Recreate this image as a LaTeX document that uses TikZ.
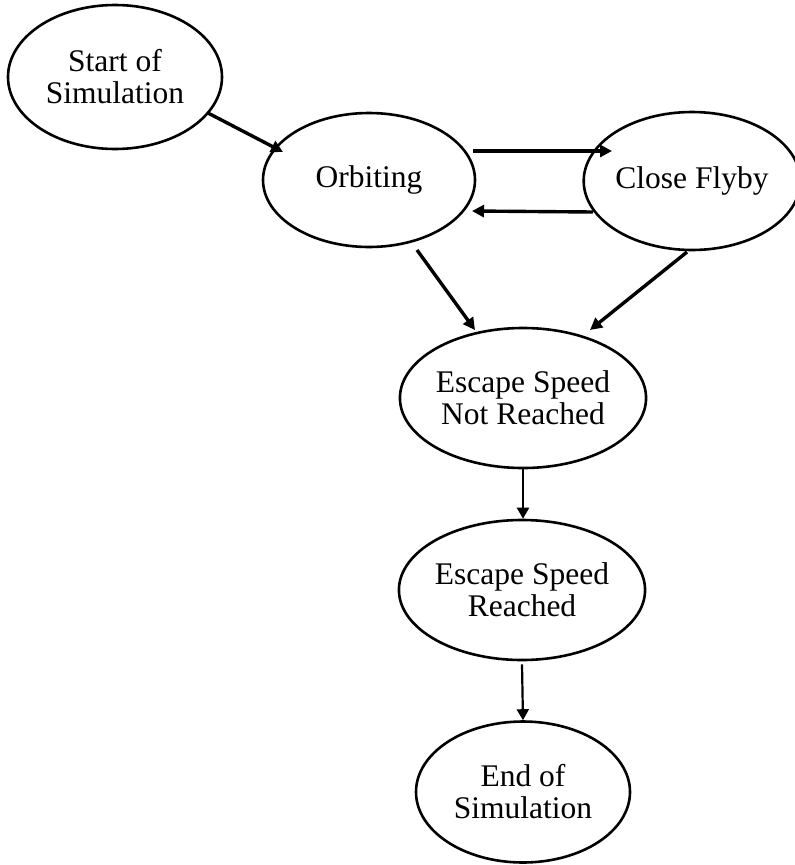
\documentclass[tikz,border=0pt]{standalone}
\usepackage{fontspec}
\setmainfont{Liberation Serif}
\usetikzlibrary{shapes.geometric,arrows.meta,calc}
\begin{document}
\begin{tikzpicture}[x=1pt,y=-1pt,
  state/.style={ellipse,draw,line width=2.6pt,inner sep=0pt,
    minimum width=214pt,minimum height=140pt,align=center,
    font=\fontsize{31.5}{32}\selectfont},
  arr/.style={line width=3.4pt,-{Triangle[length=12pt,width=12pt]}},
  varr/.style={line width=2.2pt,-{Triangle[length=11pt,width=12pt]}}]
\useasboundingbox (0,0) rectangle (795,865);

% states
\node[state,minimum height=144pt] (start) at (115,77) {Start of\\Simulation};
\node[state,minimum width=212pt,minimum height=134pt] (orb) at (369,180) {Orbiting};
\node[state,minimum width=202pt,minimum height=138pt] (fly) at (692,181) {Close Flyby};
\node[state] (esn) at (523,398) {Escape Speed\\Not Reached};
\node[state] (esr) at (522,590) {Escape Speed\\Reached};
\node[state,minimum height=141pt] (end) at (523,792) {End of\\Simulation};

% transitions
\draw[arr] ($(start)+(93,36)$) -- ($(orb)+(-86,-28)$);
\draw[arr] ($(orb)+(104,-29)$) -- ($(fly)+(-80,-30)$);
\draw[arr] ($(fly)+(-99,31)$) -- ($(orb)+(103,31)$);
\draw[arr] ($(orb)+(48,70)$) -- ($(esn)+(-48,-68)$);
\draw[arr] ($(fly)+(-5,71)$) -- ($(esn)+(67,-68)$);
\draw[varr] (esn.south) -- (esn.south |- esr.north);
\draw[varr] ($(esr.south)+(0,3)$) -- (end.north);
\end{tikzpicture}
\end{document}
